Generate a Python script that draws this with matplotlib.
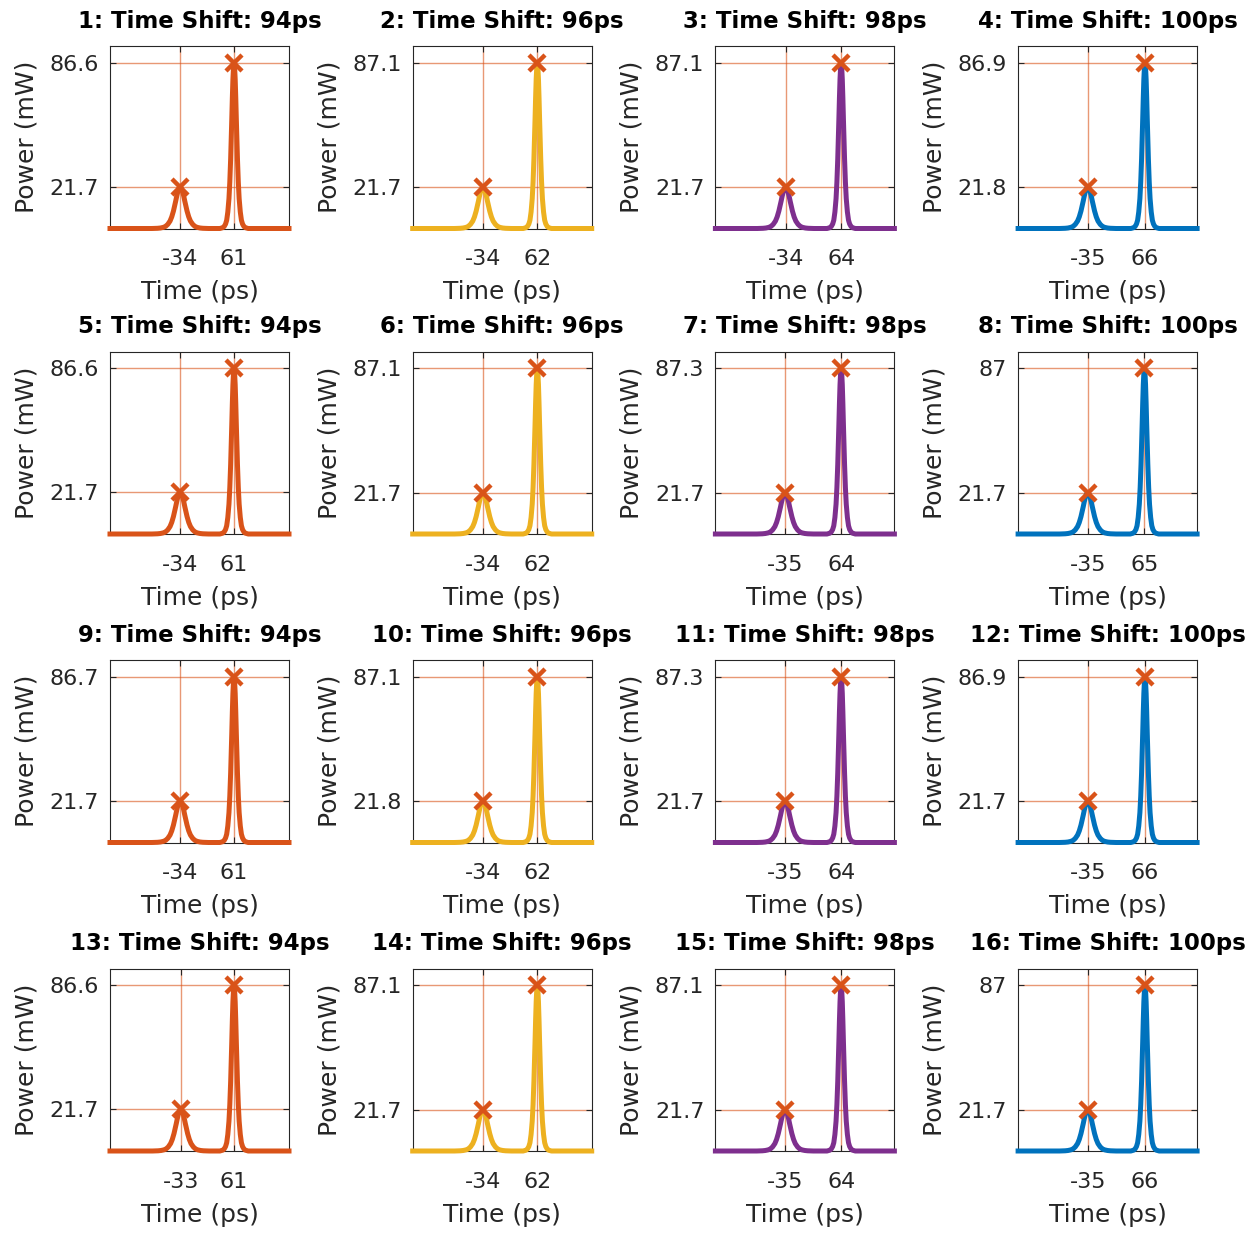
import numpy as np
import matplotlib
matplotlib.use("Agg")
import matplotlib.pyplot as plt
from matplotlib.ticker import FormatStrFormatter

# ---- data ----
shifts = [94, 96, 98, 100]                      # ps, one per column
line_colors = ["#D95319", "#EDB120", "#7E2F8E", "#0072BD"]

# peak positions (ps), rows x columns
t_small = [[-34, -34, -34, -35],
           [-34, -34, -35, -35],
           [-34, -34, -35, -35],
           [-33, -34, -35, -35]]
t_big = [[61, 62, 64, 66],
         [61, 62, 64, 65],
         [61, 62, 64, 66],
         [61, 62, 64, 66]]

# peak powers (mW)
p_small = [[21.7, 21.7, 21.7, 21.8],
           [21.7, 21.7, 21.7, 21.7],
           [21.7, 21.8, 21.7, 21.7],
           [21.7, 21.7, 21.7, 21.7]]
p_big = [[86.6, 87.1, 87.1, 86.9],
         [86.6, 87.1, 87.3, 87.0],
         [86.7, 87.1, 87.3, 86.9],
         [86.6, 87.1, 87.1, 87.0]]

# pulse shape (one side), offset from the peak in ps and relative power,
# read from the small pulse; the big pulse is about half as wide
profile_dt = [0, 2, 4, 6, 8, 10, 12, 15, 18, 22, 26, 30, 35, 40, 50]
profile_rel = [1.0, 0.97, 0.90, 0.79, 0.66, 0.54, 0.42, 0.28, 0.18,
               0.10, 0.05, 0.027, 0.012, 0.005, 0.0]
big_width_ratio = 0.5

t_window = (-158, 158)

MARK = "#D95319"
AXC = "#262626"


def pulse(t0, peak, scale):
    dt = np.array(profile_dt) * scale
    rel = np.array(profile_rel)
    t = np.concatenate([t0 - dt[::-1], t0 + dt[1:]])
    p = np.concatenate([rel[::-1], rel[1:]]) * peak
    return t, p


plt.rcParams["font.family"] = ["DejaVu Sans"]

fig = plt.figure(figsize=(12.54, 12.37), dpi=100)
W, H = 1254, 1237
lefts = [110, 412.7, 715.4, 1018.1]
tops = [46, 351.5, 660, 968.5]
aw, ah = 179, 182.5

n = 0
for r in range(4):
    for c in range(4):
        n += 1
        ax = fig.add_axes([lefts[c] / W, 1 - (tops[r] + ah) / H, aw / W, ah / H])
        ts, ps = pulse(t_small[r][c], p_small[r][c], 1.0)
        tb, pb = pulse(t_big[r][c], p_big[r][c], big_width_ratio)
        t = np.concatenate([[t_window[0]], ts, tb, [t_window[1]]])
        p = np.concatenate([[0.0], ps, pb, [0.0]])
        ax.plot(t, p, color=line_colors[c], lw=3.6, zorder=3,
                solid_joinstyle="round", clip_on=False)
        ax.plot([t_small[r][c], t_big[r][c]], [p_small[r][c], p_big[r][c]],
                ls="none", marker="x", ms=11.5, mew=3.2, color=MARK, zorder=4,
                clip_on=False)

        ax.set_xlim(*t_window)
        ax.set_ylim(0, 1.1 * p_big[r][c])
        ax.set_xticks([t_small[r][c], t_big[r][c]])
        ax.set_yticks([p_small[r][c], p_big[r][c]])
        ax.xaxis.set_major_formatter(FormatStrFormatter("%d"))
        ax.yaxis.set_major_formatter(FormatStrFormatter("%g"))
        ax.grid(True, color=MARK, alpha=0.6, lw=1.0, zorder=1)
        ax.set_axisbelow(True)
        ax.tick_params(direction="in", length=4, width=0.8, colors=AXC,
                       top=True, right=True, labelsize=16, labelcolor=AXC)
        ax.tick_params(axis="x", pad=15)
        ax.tick_params(axis="y", pad=8)
        for s in ax.spines.values():
            s.set_color(AXC)
            s.set_linewidth(0.8)
        ax.set_xlabel("Time (ps)", fontsize=18, color=AXC, labelpad=8)
        ax.set_ylabel("Power (mW)", fontsize=18, color=AXC, labelpad=8)
        ax.set_title(f"{n}: Time Shift: {shifts[c]}ps", fontsize=16.5,
                     fontweight="bold", pad=13)

fig.savefig("out.png", dpi=100)
